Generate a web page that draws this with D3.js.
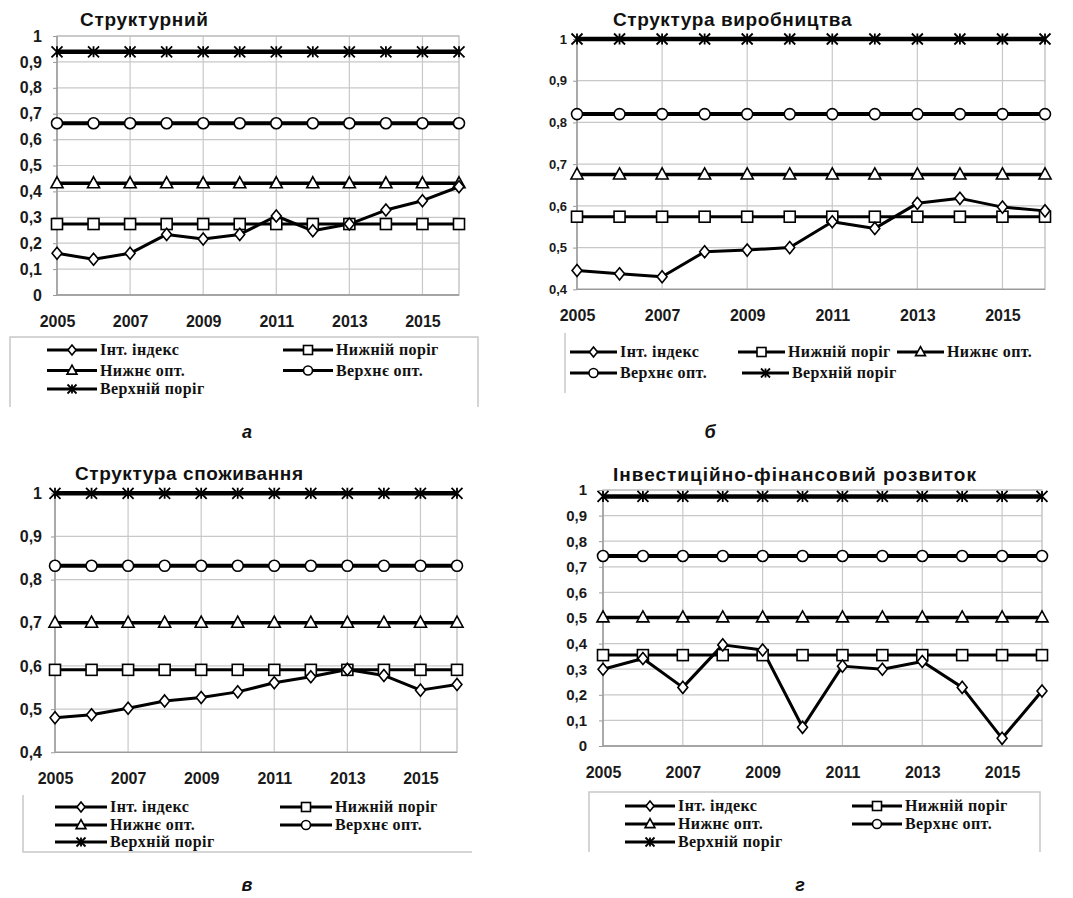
<!DOCTYPE html>
<html><head><meta charset="utf-8">
<script src="https://cdn.jsdelivr.net/npm/d3@7/dist/d3.min.js"></script>
<style>body{margin:0;background:#fff}svg{display:block}</style></head>
<body>
<svg id="c" width="1073" height="898"></svg>
<script>
// ---------- DATA ----------
const years = [2005, 2006, 2007, 2008, 2009, 2010, 2011, 2012, 2013, 2014, 2015, 2016];
const xTickYears = [2005, 2007, 2009, 2011, 2013, 2015];
const seriesNames = ["Інт. індекс", "Нижній поріг", "Нижнє опт.", "Верхнє опт.", "Верхній поріг"];
const titles = ["Структурний", "Структура виробництва", "Структура споживання", "Інвестиційно-фінансовий розвиток"];
const captions = ["а", "б", "в", "г"];
const yTicksFull = [0, 0.1, 0.2, 0.3, 0.4, 0.5, 0.6, 0.7, 0.8, 0.9, 1];
const yTicksUpper = [0.4, 0.5, 0.6, 0.7, 0.8, 0.9, 1];

// Інт. індекс per panel
const indexA = [0.161, 0.138, 0.161, 0.234, 0.216, 0.234, 0.305, 0.248, 0.274, 0.328, 0.364, 0.418];
const indexB = [0.445, 0.437, 0.430, 0.490, 0.494, 0.500, 0.562, 0.546, 0.606, 0.618, 0.597, 0.588];
const indexC = [0.480, 0.487, 0.502, 0.519, 0.527, 0.540, 0.561, 0.575, 0.592, 0.578, 0.544, 0.557];
const indexD = [0.300, 0.342, 0.229, 0.395, 0.375, 0.073, 0.312, 0.300, 0.330, 0.229, 0.030, 0.215];
// thresholds: Нижній поріг, Нижнє опт., Верхнє опт., Верхній поріг
const levelsA = [0.274, 0.431, 0.663, 0.939];
const levelsB = [0.574, 0.675, 0.820, 1.0];
const levelsC = [0.591, 0.700, 0.832, 1.0];
const levelsD = [0.355, 0.502, 0.742, 0.975];

// ---------- LAYOUT ----------
const panels = [
  { idx: indexA, lev: levelsA, ticks: yTicksFull, dom: [0, 1],
    x0: 57, x1: 459, yT: 36, yB: 295, titleX: 80, titleY: 26, titleFs: 19, titleLs: 0.7, tickFs: 16, tickPad: 11, xLabY: 321,
    legend: { items: [[47,350],[283,350],[47,370.5],[283,370.5],[47,389]], len: 50,
      border: "M10,407 L10,337 L478,337 L478,407" },
    capX: 247, capY: 438 },
  { idx: indexB, lev: levelsB, ticks: yTicksUpper, dom: [0.4, 1],
    x0: 577, x1: 1045, yT: 39, yB: 289.3, titleX: 613, titleY: 26, titleFs: 19, titleLs: 0.6, tickFs: 13, tickPad: 6, xLabY: 315,
    legend: { items: [[570,352],[738,352],[897,352],[570,373],[742,373]], len: 47,
      border: "M565,333 L565,393" },
    capX: 710, capY: 438 },
  { idx: indexC, lev: levelsC, ticks: yTicksUpper, dom: [0.4, 1],
    x0: 55, x1: 457, yT: 493.3, yB: 752.3, titleX: 75, titleY: 479.5, titleFs: 19, titleLs: 0.6, tickFs: 16, tickPad: 9, xLabY: 778,
    legend: { items: [[55,807],[280,807],[55,825],[280,825],[55,842]], len: 52,
      border: "M23,795 L23,852 L472,852" },
    capX: 247, capY: 891 },
  { idx: indexD, lev: levelsD, ticks: yTicksFull, dom: [0, 1],
    x0: 603, x1: 1042, yT: 490, yB: 746, titleX: 613, titleY: 481, titleFs: 19, titleLs: 1.0, tickFs: 15, tickPad: 12, xLabY: 772,
    legend: { items: [[625,806],[852,806],[625,824],[852,824],[625,842]], len: 50,
      border: "M589,852 L589,792 L1040,792 L1040,852" },
    capX: 800, capY: 891 }
];

const widths = [3, 3, 3.5, 4, 4.5];
const markerKinds = ["diamond", "square", "triangle", "circle", "star"];

const svg = d3.select("#c");

function drawMarker(g, kind, x, y, s) {
  let el;
  if (kind === "circle") el = g.append("circle").attr("cx", x).attr("cy", y).attr("r", s * 0.5);
  else if (kind === "square") el = g.append("rect").attr("x", x - s / 2).attr("y", y - s / 2).attr("width", s).attr("height", s);
  else if (kind === "diamond") el = g.append("path").attr("d", `M${x},${y - s * 0.55}L${x + s * 0.45},${y}L${x},${y + s * 0.55}L${x - s * 0.45},${y}Z`);
  else if (kind === "triangle") el = g.append("path").attr("d", `M${x},${y - s * 0.6}L${x + s * 0.55},${y + s * 0.4}L${x - s * 0.55},${y + s * 0.4}Z`);
  else {
    const h = s * 0.5;
    g.append("path").attr("d", `M${x},${y - h}L${x},${y + h}M${x - h},${y - h}L${x + h},${y + h}M${x + h},${y - h}L${x - h},${y + h}`)
      .attr("stroke-width", 1.8).attr("stroke", "#000").attr("fill", "none");
    return;
  }
  el.attr("fill", "#fff").attr("stroke", "#000").attr("stroke-width", 1.6);
}

panels.forEach((p, pi) => {
  const g = svg.append("g");
  const x = d3.scaleLinear().domain([years[0], years[years.length - 1]]).range([p.x0, p.x1]);
  const y = d3.scaleLinear().domain(p.dom).range([p.yB, p.yT]);

  // gridlines
  g.append("g").selectAll("line").data(p.ticks).join("line")
    .attr("x1", p.x0).attr("x2", p.x1).attr("y1", d => y(d)).attr("y2", d => y(d))
    .attr("stroke", "#c8c8c8").attr("stroke-width", 1.2);
  g.append("g").selectAll("line").data(xTickYears).join("line")
    .attr("x1", d => x(d)).attr("x2", d => x(d)).attr("y1", p.yT).attr("y2", p.yB)
    .attr("stroke", "#c8c8c8").attr("stroke-width", 1.2);
  g.append("rect").attr("x", p.x0).attr("y", p.yT).attr("width", p.x1 - p.x0).attr("height", p.yB - p.yT)
    .attr("fill", "none").attr("stroke", "#bdbdbd").attr("stroke-width", 1.3);
  g.append("line").attr("x1", p.x0).attr("x2", p.x0).attr("y1", p.yT).attr("y2", p.yB).attr("stroke", "#999").attr("stroke-width", 1.3);
  g.append("line").attr("x1", p.x0).attr("x2", p.x1).attr("y1", p.yB).attr("y2", p.yB).attr("stroke", "#999").attr("stroke-width", 1.3);

  // y axis labels
  const yAxis = d3.axisLeft(y).tickValues(p.ticks).tickSize(4).tickPadding(p.tickPad)
    .tickFormat(d => d3.format("~g")(d).replace(".", ","));
  const ya = g.append("g").attr("transform", `translate(${p.x0},0)`).call(yAxis);
  ya.select(".domain").remove();
  ya.selectAll("line").attr("stroke", "#999");
  ya.selectAll("text").attr("font-family", "Arial, 'Liberation Sans', sans-serif").attr("font-weight", "bold")
    .attr("font-size", p.tickFs).attr("fill", "#1a1a1a");

  // x axis labels
  const xAxis = d3.axisBottom(x).tickValues(xTickYears).tickSize(0).tickPadding(0).tickFormat(d3.format("d"));
  const xa = g.append("g").attr("transform", `translate(0,${p.xLabY})`).call(xAxis);
  xa.select(".domain").remove();
  xa.selectAll("text").attr("y", 0).attr("dy", "0.36em").attr("font-family", "Arial, 'Liberation Sans', sans-serif").attr("font-weight", "bold")
    .attr("font-size", 16).attr("fill", "#1a1a1a");

  // title
  g.append("text").attr("x", p.titleX).attr("y", p.titleY).text(titles[pi])
    .attr("font-family", "Arial, 'Liberation Sans', sans-serif").attr("font-weight", "bold")
    .attr("font-size", p.titleFs).attr("letter-spacing", p.titleLs).attr("fill", "#111");

  // series
  const seriesVals = [p.idx, years.map(() => p.lev[0]), years.map(() => p.lev[1]), years.map(() => p.lev[2]), years.map(() => p.lev[3])];
  const line = d3.line().x((d, i) => x(years[i])).y(d => y(d));
  for (let s = 4; s >= 0; s--) {
    g.append("path").attr("d", line(seriesVals[s])).attr("fill", "none")
      .attr("stroke", "#000").attr("stroke-width", widths[s]).attr("stroke-linejoin", "round");
  }
  for (let s = 4; s >= 0; s--) {
    const mg = g.append("g");
    seriesVals[s].forEach((v, i) => drawMarker(mg, markerKinds[s], x(years[i]), y(v), 11));
  }

  // legend
  const L = p.legend;
  g.append("path").attr("d", L.border).attr("fill", "none").attr("stroke", "#c8c8c8").attr("stroke-width", 1.5);
  L.items.forEach((pos, s) => {
    const [lx, ly] = pos;
    g.append("line").attr("x1", lx).attr("x2", lx + L.len).attr("y1", ly).attr("y2", ly)
      .attr("stroke", "#000").attr("stroke-width", 3);
    drawMarker(g, markerKinds[s], lx + L.len / 2, ly, 9);
    g.append("text").attr("x", lx + L.len + 3).attr("y", ly + 5).text(seriesNames[s])
      .attr("font-family", "'Liberation Serif', 'Times New Roman', serif").attr("font-weight", "bold")
      .attr("font-size", 16).attr("letter-spacing", "0.4").attr("fill", "#111");
  });

  // caption
  g.append("text").attr("x", p.capX).attr("y", p.capY).attr("text-anchor", "middle").text(captions[pi])
    .attr("font-family", "Arial, 'Liberation Sans', sans-serif").attr("font-style", "italic").attr("font-weight", "bold")
    .attr("font-size", 18).attr("fill", "#111");
});
</script>
</body></html>
